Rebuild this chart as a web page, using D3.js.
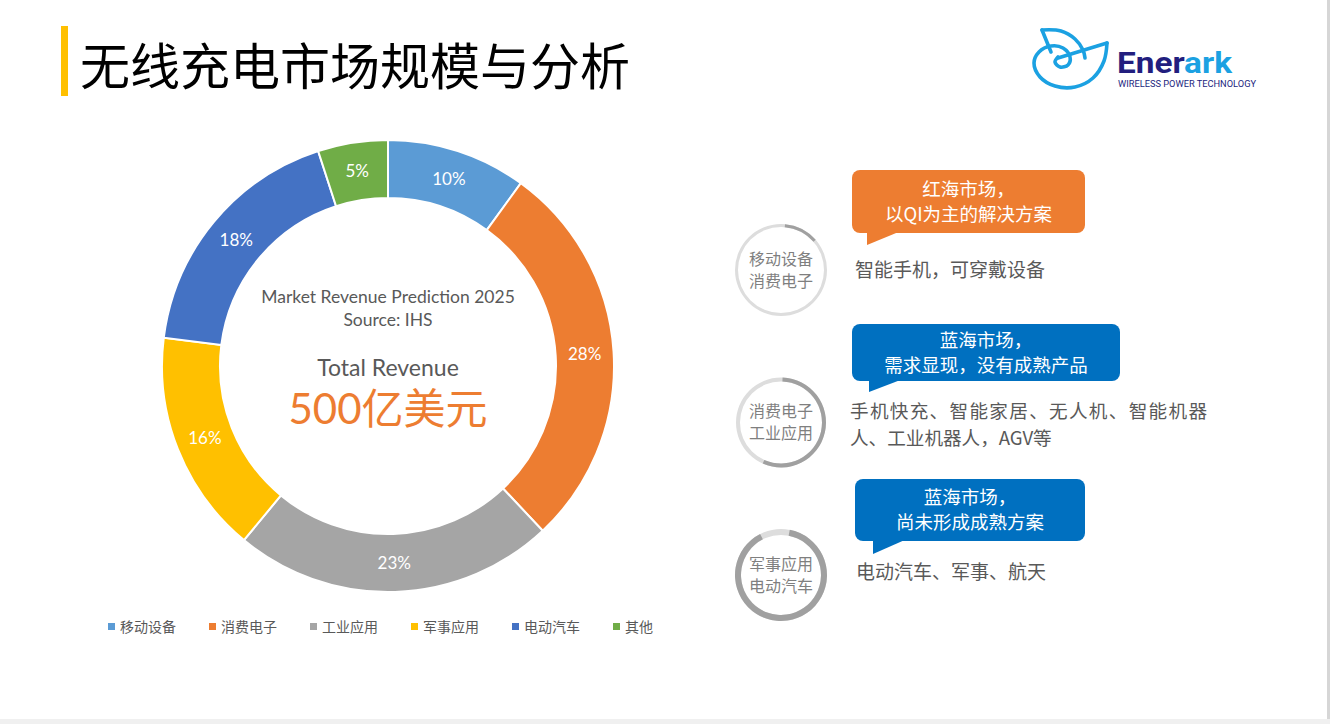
<!DOCTYPE html>
<html>
<head>
<meta charset="utf-8">
<script src="https://cdn.jsdelivr.net/npm/d3@7.9.0/dist/d3.min.js"></script>
<style>
  body { margin: 0; background: #fff; }
  svg { display: block; font-family: "Noto Sans CJK SC", sans-serif; }
</style>
</head>
<body>
<svg id="chart" width="1330" height="724"></svg>
<script>
// market share data
const categories = ['移动设备', '消费电子', '工业应用', '军事应用', '电动汽车', '其他'];
const shares = [10, 28, 23, 16, 18, 5];
const colors = ['#5B9BD5', '#ED7D31', '#A5A5A5', '#FFC000', '#4472C4', '#70AD47'];

// right side segments
const ringLabels = [['移动设备', '消费电子'], ['消费电子', '工业应用'], ['军事应用', '电动汽车']];
const ringStart = [5, 2, 11];     // degrees, dark arc start
const ringEnd = [49, 204, 333];   // degrees, dark arc end
const calloutTitles = [['红海市场，', '以QI为主的解决方案'], ['蓝海市场，', '需求显现，没有成熟产品'], ['蓝海市场，', '尚未形成成熟方案']];
const calloutColors = ['#ED7D31', '#0070C0', '#0070C0'];
const descriptions = [['智能手机，可穿戴设备'], ['手机快充、智能家居、无人机、智能机器', '人、工业机器人，AGV等'], ['电动汽车、军事、航天']];

const svg = d3.select('#chart');

// frame edges
svg.append('rect').attr('x', 1327).attr('y', 0).attr('width', 3).attr('height', 724).attr('fill', '#d6d6d6');
svg.append('rect').attr('x', 0).attr('y', 719).attr('width', 1330).attr('height', 5).attr('fill', '#f0f0f0');

// title
svg.append('rect').attr('x', 61).attr('y', 26).attr('width', 7).attr('height', 70).attr('fill', '#FFC000');
svg.append('text').attr('x', 80).attr('y', 85)
  .attr('font-size', 50).attr('fill', '#000')
  .text('无线充电市场规模与分析');

// logo (shell spiral)
const logo = svg.append('g').attr('transform', 'translate(1025,25)')
  .attr('fill', 'none').attr('stroke', '#1BA1E2').attr('stroke-width', 3.6)
  .attr('stroke-linejoin', 'round').attr('stroke-linecap', 'round');
const curve = d3.line().curve(d3.curveCatmullRom);
logo.append('path').attr('d', curve([[17, 5], [36, 6], [50, 14], [58, 25], [60, 33]]));
logo.append('path').attr('d', 'M17,5 L26,27 M33,33 L82,18');
logo.append('path').attr('d', curve([[82, 18], [79, 36], [68, 53], [50, 62], [30, 61], [15, 52], [9, 38], [14, 27], [26, 21], [38, 23], [45, 32], [43, 40], [35, 42], [30, 37], [33, 32]]));
const brand = svg.append('text').attr('x', 1117).attr('y', 73)
  .attr('font-family', 'Roboto, sans-serif').attr('font-weight', 700).attr('font-size', 30)
  .attr('textLength', 115).attr('lengthAdjust', 'spacingAndGlyphs');
brand.append('tspan').attr('fill', '#221E7E').text('Ener');
brand.append('tspan').attr('fill', '#1BA1E2').text('ark');
svg.append('text').attr('x', 1118).attr('y', 87)
  .attr('font-family', 'Roboto, sans-serif').attr('font-size', 8.5).attr('fill', '#221E7E')
  .attr('textLength', 138).attr('lengthAdjust', 'spacingAndGlyphs')
  .text('WIRELESS POWER TECHNOLOGY');

// donut
const cx = 388, cy = 366;
const pie = d3.pie().sort(null).value(d => d);
const arc = d3.arc().innerRadius(168).outerRadius(226);
const labelArc = d3.arc().innerRadius(197).outerRadius(197);
const arcData = pie(shares);
const donut = svg.append('g').attr('transform', `translate(${cx},${cy})`);
donut.selectAll('path').data(arcData).join('path')
  .attr('d', arc)
  .attr('fill', (d, i) => colors[i])
  .attr('stroke', '#fff').attr('stroke-width', 2);
donut.selectAll('text.pct').data(arcData).join('text')
  .attr('class', 'pct')
  .attr('transform', d => `translate(${labelArc.centroid(d)})`)
  .attr('text-anchor', 'middle').attr('dy', '0.35em')
  .attr('font-family', 'Lato, sans-serif').attr('font-size', 17).attr('fill', '#fff')
  .text(d => d.data + '%');

// centre texts
const centre = svg.append('g').attr('text-anchor', 'middle').attr('font-family', 'Lato, "Noto Sans CJK SC", sans-serif');
centre.append('text').attr('x', cx).attr('y', 303).attr('font-size', 17.5).attr('fill', '#595959').text('Market Revenue Prediction 2025');
centre.append('text').attr('x', cx).attr('y', 326).attr('font-size', 17.5).attr('fill', '#595959').text('Source: IHS');
centre.append('text').attr('x', cx).attr('y', 376).attr('font-size', 23).attr('fill', '#595959').text('Total Revenue');
centre.append('text').attr('x', cx).attr('y', 424).attr('font-size', 42).attr('fill', '#ED7D31').text('500亿美元');

// legend
const legendX = d3.scalePoint().domain(categories).range([108, 613]);
const legend = svg.append('g');
const item = legend.selectAll('g').data(categories).join('g')
  .attr('transform', d => `translate(${legendX(d)},627)`);
item.append('rect').attr('x', 0).attr('y', -4).attr('width', 7).attr('height', 7)
  .attr('fill', (d, i) => colors[i]);
item.append('text').attr('x', 12).attr('y', 5).attr('font-size', 14).attr('fill', '#595959').text(d => d);

// rings
const rowY = d3.scaleLinear().domain([0, 2]).range([270, 575]);
const ringOuter = [46, 45, 46];
const ringWidth = [3, 4, 6];
const rad = Math.PI / 180;
ringLabels.forEach((lines, i) => {
  const g = svg.append('g').attr('transform', `translate(781,${rowY(i)})`);
  const r1 = ringOuter[i], r0 = r1 - ringWidth[i];
  g.append('path')
    .attr('d', d3.arc().innerRadius(r0).outerRadius(r1).startAngle(0).endAngle(2 * Math.PI)())
    .attr('fill', '#DDDDDD');
  g.append('path')
    .attr('d', d3.arc().innerRadius(r0).outerRadius(r1).startAngle(ringStart[i] * rad).endAngle(ringEnd[i] * rad)())
    .attr('fill', '#A0A0A0');
  g.selectAll('text').data(lines).join('text')
    .attr('text-anchor', 'middle')
    .attr('y', (d, j) => -11 + j * 22).attr('dy', '0.35em')
    .attr('font-size', 16).attr('fill', '#7F7F7F')
    .text(d => d);
});

// callouts
const boxes = [
  { x: 852, y: 170, w: 233, h: 63, tip: [867, 245], tail: 34 },
  { x: 852, y: 324, w: 268, h: 57, tip: [869, 392], tail: 34 },
  { x: 855, y: 479, w: 230, h: 62, tip: [873, 554], tail: 34 }
];
boxes.forEach((b, i) => {
  const g = svg.append('g');
  g.append('rect').attr('x', b.x).attr('y', b.y).attr('width', b.w).attr('height', b.h)
    .attr('rx', 8).attr('fill', calloutColors[i]);
  g.append('path')
    .attr('d', `M${b.tip[0]},${b.y + b.h - 2} L${b.tip[0]},${b.tip[1]} L${b.tip[0] + b.tail},${b.y + b.h - 2}Z`)
    .attr('fill', calloutColors[i]);
  const mid = b.y + b.h / 2;
  g.selectAll('text').data(calloutTitles[i]).join('text')
    .attr('x', b.x + b.w / 2)
    .attr('y', (d, j) => mid - 12 + j * 25).attr('dy', '0.35em')
    .attr('text-anchor', 'middle').attr('font-size', 18.5).attr('fill', '#fff')
    .text(d => d);
});

// descriptions
const descY = [270, 411, 572];
const descX = [855, 850, 856];
const descSize = [19, 18.6, 19];
descriptions.forEach((lines, i) => {
  svg.append('g').selectAll('text').data(lines).join('text')
    .attr('x', descX[i])
    .attr('y', (d, j) => descY[i] + j * 27).attr('dy', '0.35em')
    .attr('font-size', descSize[i]).attr('fill', '#595959')
    .attr('textLength', (d, j) => (lines.length > 1 && j === 0) ? 357 : null)
    .text(d => d);
});
</script>
</body>
</html>
